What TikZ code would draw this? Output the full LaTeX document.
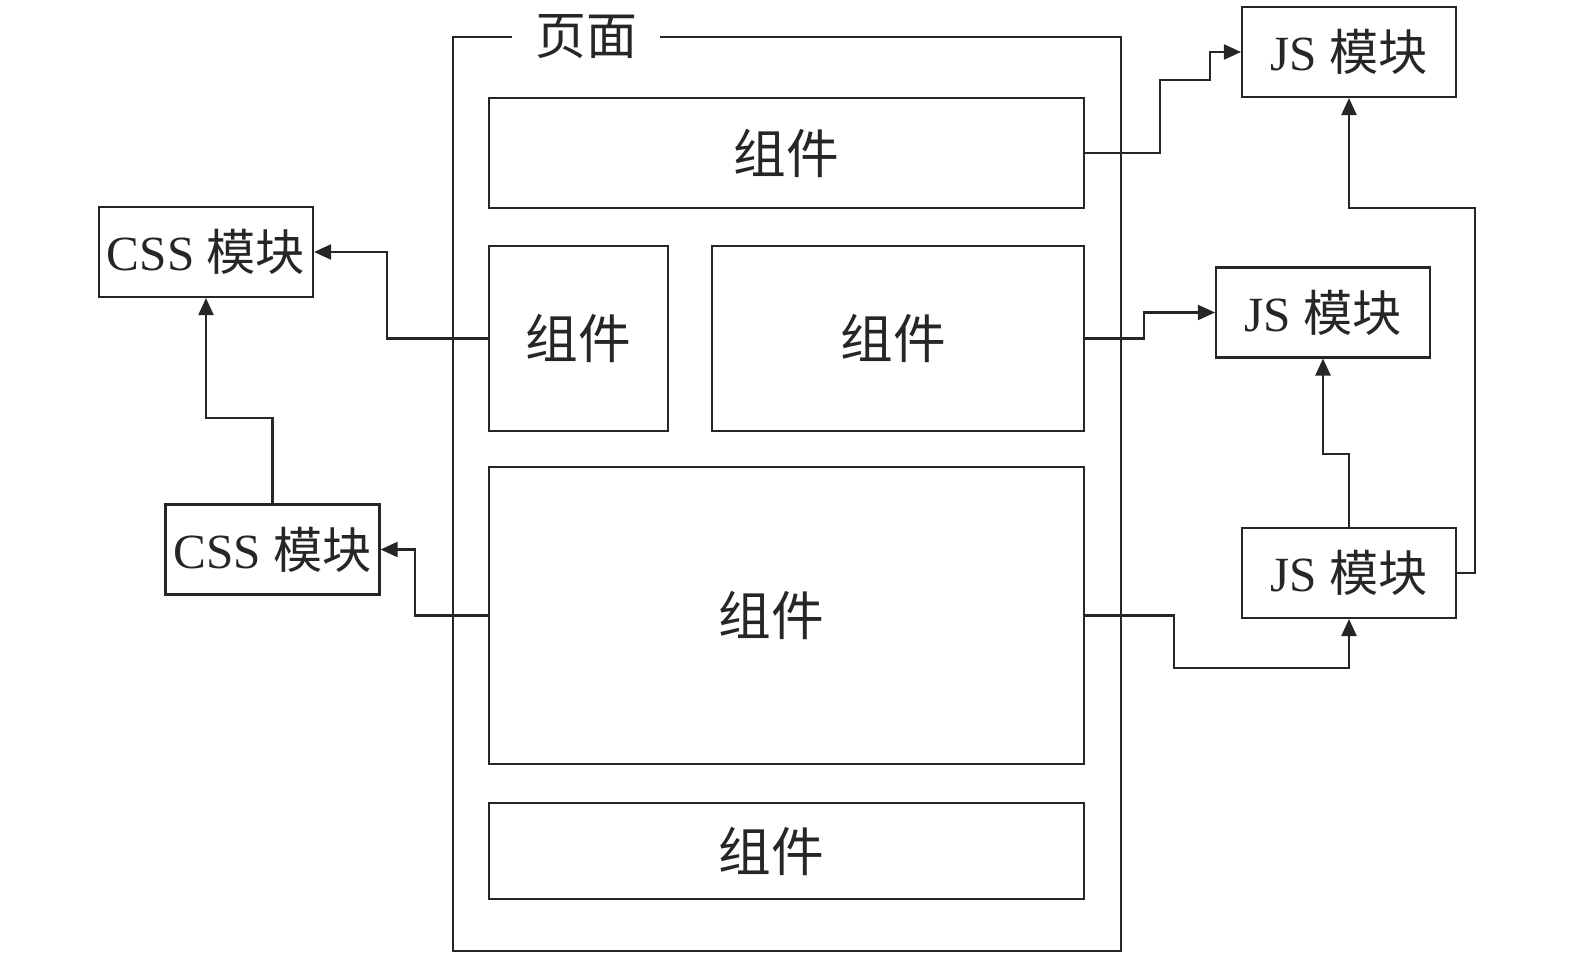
\documentclass[tikz,border=0pt]{standalone}
\usepackage{fontspec}
\setmainfont{Liberation Serif}
\newfontfamily\cjk{Noto Sans CJK SC}
\usetikzlibrary{arrows.meta}

\begin{document}
\begin{tikzpicture}[x=0.02cm,y=-0.02cm,line width=1.2pt,color=black!85,
    comp/.style={draw,inner sep=0pt,font=\fontsize{30pt}{32pt}\selectfont\cjk},
    modbox/.style={draw,inner sep=0pt,minimum width=4.28cm,minimum height=1.8cm,
        font=\fontsize{28pt}{30pt}\selectfont},
    arr/.style={-{Triangle[length=0.34cm,width=0.3cm]}}]
    \useasboundingbox (0,0) rectangle (1575,959);

    % page frame
    \node[draw,inner sep=0pt,minimum width=13.36cm,minimum height=18.28cm] (page) at (787,494) {};
    \node[fill=white,inner xsep=0.46cm,inner ysep=1pt,font=\fontsize{29pt}{31pt}\selectfont\cjk] (title) at (586,37) {页面};

    % components
    \node[comp,minimum width=11.9cm,minimum height=2.2cm] (comp1) at (786.5,153) {组件};
    \node[comp,minimum width=3.58cm,minimum height=3.7cm] (comp2) at (578.5,338.5) {组件};
    \node[comp,minimum width=7.44cm,minimum height=3.7cm] (comp3) at (898,338.5) {\hspace{-0.2cm}组件};
    \node[comp,minimum width=11.9cm,minimum height=5.94cm] (comp4) at (786.5,615.5) {\hspace{-0.6cm}组件};
    \node[comp,minimum width=11.9cm,minimum height=1.92cm] (comp5) at (786.5,851) {\hspace{-0.6cm}组件};

    % modules
    \node[modbox] (css1) at (206,252) {CSS {\cjk 模块}};
    \node[modbox] (css2) at (272.5,549.5) {CSS {\cjk 模块}};
    \node[modbox] (js1) at (1349,52) {JS {\cjk 模块}};
    \node[modbox] (js2) at (1323,312.5) {JS {\cjk 模块}};
    \node[modbox] (js3) at (1349,573) {JS {\cjk 模块}};

    % links
    \draw[arr] (comp1.east) -- (1160,153) |- (1210,80) |- (js1.west);
    \draw[arr] (comp3.east) -- (1144,338.5) |- (js2.west);
    \draw[arr] (comp4.east) -| (1174,668) -| (js3.south);
    \draw[arr] (js3.east) -| (1475,208) -| (js1.south);
    \draw[arr] (js3.north) -- (1349,454) -| (js2.south);
    \draw[arr] (comp2.west) -| (387,252) -- (css1.east);
    \draw[arr] (comp4.west) -- (415,615.5) |- (css2.east);
    \draw[arr] (css2.north) -- (272.5,418) -| (css1.south);
\end{tikzpicture}
\end{document}
